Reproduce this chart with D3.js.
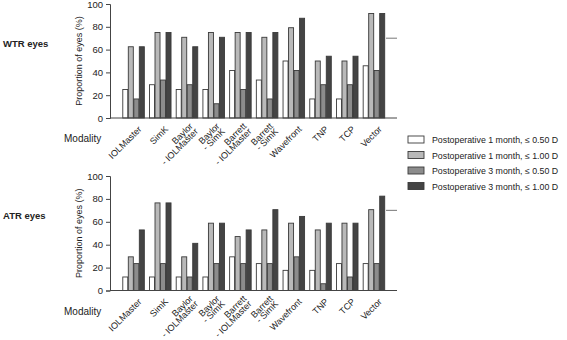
<!DOCTYPE html>
<html>
<head>
<meta charset="utf-8">
<script src="https://cdn.jsdelivr.net/npm/d3@7"></script>
<style>
  body { margin: 0; background: #fff; }
  text { font-family: "Liberation Sans", Arial, sans-serif; fill: #222; }
</style>
</head>
<body>
<div id="chart"></div>
<script>
// categories on the x axis (\n = line break)
var modalities = ["IOLMaster", "SimK", "Baylor\n- IOLMaster", "Baylor\n- SimK", "Barrett\n- IOLMaster",
  "Barrett\n- SimK", "Wavefront", "TNP", "TCP", "Vector"];
var seriesNames = ["Postoperative 1 month, \u2264 0.50 D", "Postoperative 1 month, \u2264 1.00 D",
  "Postoperative 3 month, \u2264 0.50 D", "Postoperative 3 month, \u2264 1.00 D"];
var yTicks = [0, 20, 40, 60, 80, 100];

// WTR eyes
var wtr_1m_050 = [25, 29.2, 25, 25, 41.7, 33.3, 50, 16.7, 16.7, 45.8];
var wtr_1m_100 = [62.5, 75, 70.8, 75, 75, 70.8, 79.2, 50, 50, 91.7];
var wtr_3m_050 = [16.7, 33.3, 29.2, 12.5, 25, 16.7, 41.7, 29.2, 29.2, 41.7];
var wtr_3m_100 = [62.5, 75, 62.5, 70.8, 75, 75, 87.5, 54.2, 54.2, 91.7];

// ATR eyes
var atr_1m_050 = [11.8, 11.8, 11.8, 11.8, 29.4, 23.5, 17.6, 17.6, 23.5, 23.5];
var atr_1m_100 = [29.4, 76.5, 29.4, 58.8, 47.1, 52.9, 58.8, 52.9, 58.8, 70.6];
var atr_3m_050 = [23.5, 23.5, 11.8, 23.5, 23.5, 23.5, 29.4, 5.9, 11.8, 23.5];
var atr_3m_100 = [52.9, 76.5, 41.2, 58.8, 52.9, 70.6, 64.7, 58.8, 58.8, 82.4];

var refLine = 70;

var colors = ["#ffffff", "#b9b9b9", "#8c8c8c", "#444444"];

var width = 567, height = 340;
var svg = d3.select("#chart").append("svg")
  .attr("width", width)
  .attr("height", height);

var x = d3.scaleBand()
  .domain(modalities)
  .range([110, 397])
  .paddingInner(0.175)
  .paddingOuter(0.46);

var xs = d3.scaleBand()
  .domain(d3.range(4))
  .range([0, x.bandwidth()])
  .padding(0);

function drawPanel(title, series, top, bottom) {
  var y = d3.scaleLinear().domain([0, 100]).range([bottom, top]);
  var g = svg.append("g");

  // bars
  series.forEach(function(vals, s) {
    g.selectAll(null)
      .data(vals)
      .enter()
      .append("rect")
      .attr("x", function(d, i) { return x(modalities[i]) + xs(s) + 0.5; })
      .attr("y", function(d) { return y(d); })
      .attr("width", xs.bandwidth() - 0.5)
      .attr("height", function(d) { return y(0) - y(d); })
      .style("fill", colors[s])
      .style("stroke", "#3a3a3a")
      .style("stroke-width", 0.9);
  });

  // y axis
  var ya = g.append("g")
    .attr("transform", "translate(110,0)")
    .call(d3.axisLeft(y).tickValues(yTicks).tickSize(4).tickPadding(3));
  ya.selectAll("text").style("font-size", "9.5px").style("font-family", "Liberation Sans, Arial, sans-serif").attr("fill", "#222");
  ya.selectAll("line, path").attr("stroke", "#444");

  // x axis line
  g.append("line")
    .attr("x1", 110).attr("x2", 397)
    .attr("y1", y(0)).attr("y2", y(0))
    .attr("stroke", "#444");

  // reference mark on the right
  g.append("line")
    .attr("x1", 386).attr("x2", 397)
    .attr("y1", y(refLine)).attr("y2", y(refLine))
    .attr("stroke", "#777");

  // y title
  g.append("text")
    .attr("transform", "translate(82," + ((top + bottom) / 2) + ") rotate(-90)")
    .attr("text-anchor", "middle")
    .style("font-size", "9px")
    .text("Proportion of eyes (%)");

  // panel title
  g.append("text")
    .attr("x", 3).attr("y", (top + bottom) / 2 - 14)
    .style("font-size", "9.5px")
    .style("font-weight", "bold")
    .text(title);

  // Modality label
  g.append("text")
    .attr("x", 64).attr("y", bottom + 24)
    .style("font-size", "10px")
    .text("Modality");

  // category labels
  modalities.forEach(function(m) {
    var lines = m.split("\n");
    var cx = x(m) + x.bandwidth() / 2;
    var dx = lines.length > 1 ? 2 : 4;
    var dy = lines.length > 1 ? 4 : 7;
    var t = g.append("text")
      .attr("transform", "translate(" + (cx + dx) + "," + (bottom + dy) + ") rotate(-45)")
      .attr("text-anchor", "end")
      .style("font-size", "9px");
    lines.forEach(function(l, k) {
      t.append("tspan")
        .attr("x", 0)
        .attr("dy", k === 0 ? "0.75em" : "0.82em")
        .text(l);
    });
  });
}

drawPanel("WTR eyes", [wtr_1m_050, wtr_1m_100, wtr_3m_050, wtr_3m_100], 4, 118);
drawPanel("ATR eyes", [atr_1m_050, atr_1m_100, atr_3m_050, atr_3m_100], 176, 290.5);

// legend
var legend = svg.append("g").attr("transform", "translate(408,136)");
seriesNames.forEach(function(n, i) {
  legend.append("rect")
    .attr("x", 0).attr("y", i * 15.5)
    .attr("width", 16).attr("height", 7)
    .style("fill", colors[i])
    .style("stroke", "#3a3a3a")
    .style("stroke-width", 0.9);
  legend.append("text")
    .attr("x", 24).attr("y", i * 15.5 + 7)
    .style("font-size", "8.8px")
    .text(n);
});
</script>
</body>
</html>
